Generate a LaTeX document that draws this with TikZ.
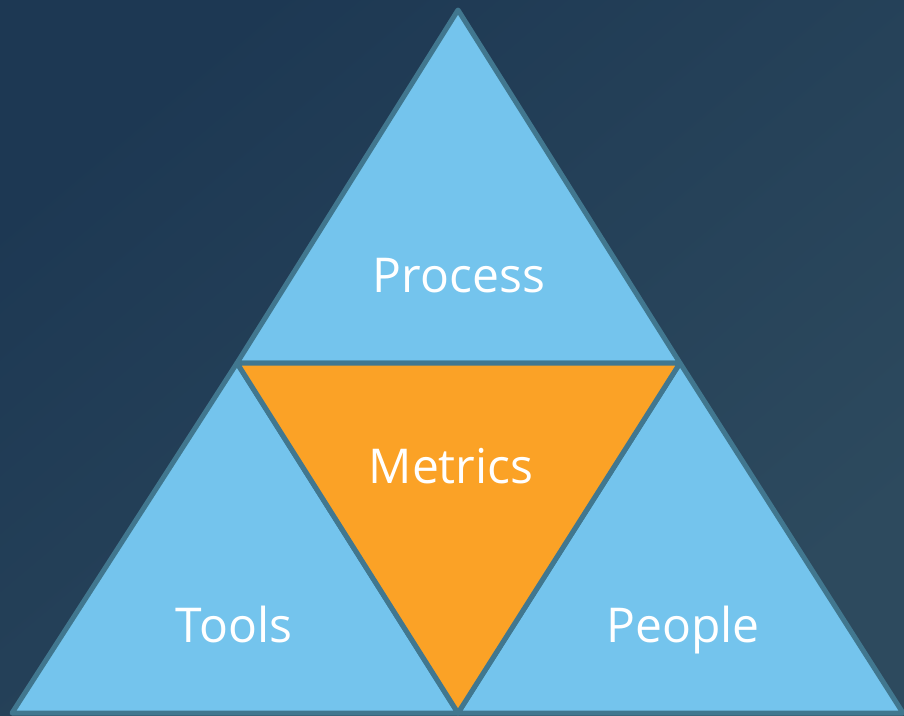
\documentclass[tikz,border=0pt]{standalone}
\usepackage{fontspec}
\setmainfont{Open Sans}
\definecolor{bgtl}{HTML}{1D3853}
\definecolor{bgbr}{HTML}{2D4A5E}
\definecolor{sky}{HTML}{74C4ED}
\definecolor{amber}{HTML}{FBA226}
\definecolor{rim}{HTML}{41778F}
\begin{document}
\begin{tikzpicture}[x=1pt,y=-1pt,
  piece/.style={draw=rim,line width=5pt,line join=round},
  lbl/.style={text=white,font=\fontsize{48}{53}\selectfont,anchor=base,inner sep=0pt}]
% background, darker towards the upper left
\path[top color=bgtl,bottom color=bgbr,shading angle=40] (0,0) rectangle (904,715);
\useasboundingbox (0,0) rectangle (904,715);
% corners of the four triangles
\coordinate (apex) at (458,10);
\coordinate (ml) at (237,363);
\coordinate (mr) at (680,363);
\coordinate (bl) at (12,713);
\coordinate (bm) at (458,713);
\coordinate (br) at (903,713);
\path[piece,fill=sky] (apex) -- (mr) -- (ml) -- cycle;
\path[piece,fill=sky] (ml) -- (bm) -- (bl) -- cycle;
\path[piece,fill=sky] (mr) -- (br) -- (bm) -- cycle;
\path[piece,fill=amber] (ml) -- (mr) -- (bm) -- cycle;
\node[lbl] (process) at (459,292) {Process};
\node[lbl] (metrics) at (451,483) {Metrics};
\node[lbl] (tools) at (234,642) {Tools};
\node[lbl] (people) at (683,642) {People};
\end{tikzpicture}
\end{document}
